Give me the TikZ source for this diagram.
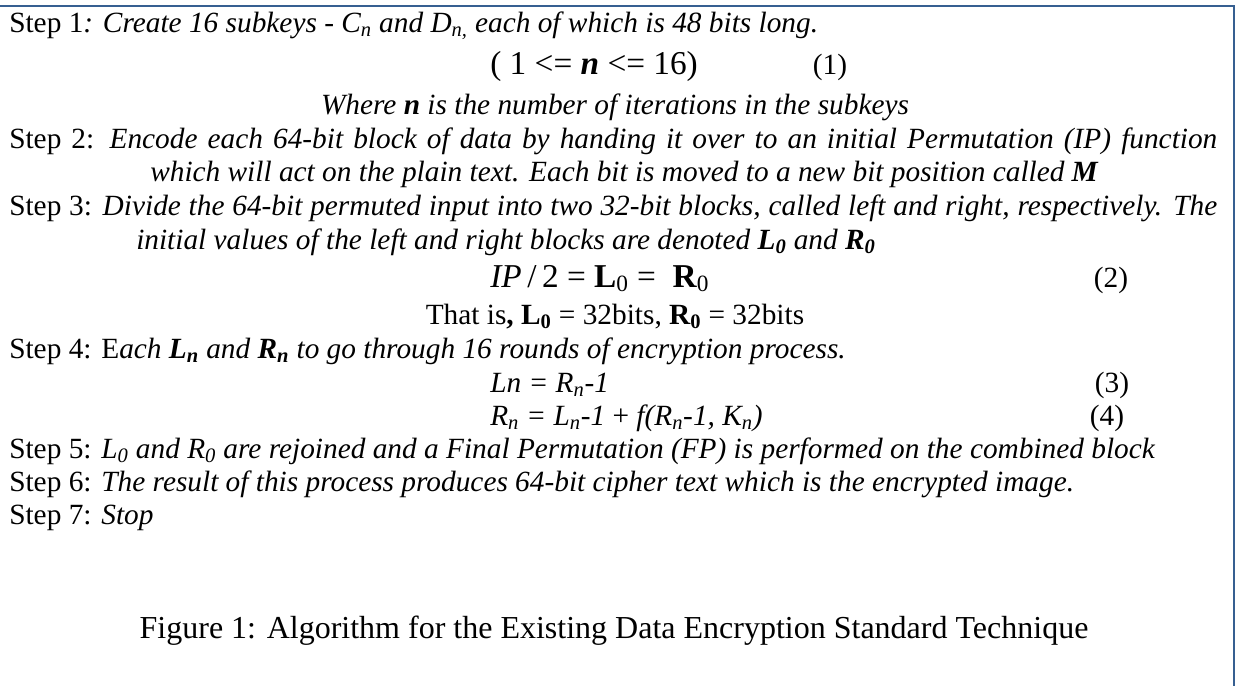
\documentclass[tikz,border=0pt]{standalone}
\usepackage{fontspec}
\setmainfont{Liberation Serif}
\definecolor{frameblue}{RGB}{54,95,145}
\newcommand{\sbs}[1]{\textsubscript{#1}}
\newlength{\fullw}
\setlength{\fullw}{906pt}
\begin{document}
\begin{tikzpicture}[x=0.75pt,y=-0.75pt,
  txt/.style={anchor=base west,inner sep=0pt,font=\fontsize{22}{25}\selectfont},
  mid/.style={anchor=base,inner sep=0pt,font=\fontsize{22}{25}\selectfont},
  eqn/.style={anchor=base west,inner sep=0pt,font=\fontsize{25}{28}\selectfont},
  captxt/.style={anchor=base,inner sep=0pt,font=\fontsize{24}{28}\selectfont},
  frame/.style={draw=frameblue,line width=2.2pt}]
\useasboundingbox (0,0) rectangle (1237,686);

% frame: top and right edges
\coordinate (fa) at (0,6);
\coordinate (fb) at (1234,6);
\coordinate (fc) at (1234,686);
\draw[frame] (fa) -- (fb) -- (fc);

% step 1
\node[txt] (s1) at (9,32) {Step 1\textit{: Create 16 subkeys - C\sbs{n} and D\sbs{n,} each of which is 48 bits long.}};
\node[eqn] (e1) at (490,74) {( 1 <= \textbf{\textit{n}} <= 16)};
\node[mid] (n1) at (830,74) {(1)};
\node[mid] (w1) at (615,114) {\textit{Where \textbf{n} is the number of iterations in the subkeys}};

% step 2
\node[txt] (s2) at (9,148) {\makebox[\fullw][s]{Step 2: \textit{Encode each 64-bit block of data by handing it over to an initial Permutation (IP) function}}};
\node[txt] (s2b) at (150,181) {\textit{which will act on the plain text. Each bit is moved to a new bit position called \textbf{M}}};

% step 3
\node[txt] (s3) at (9,215) {\makebox[\fullw][s]{Step 3: \textit{Divide the 64-bit permuted input into two 32-bit blocks, called left and right, respectively. The}}};
\node[txt] (s3b) at (136,249) {\textit{initial values of the left and right blocks are denoted \textbf{L\sbs{0}} and \textbf{R\sbs{0}}}};
\node[eqn] (e2) at (490,287) {\textit{IP}\,/\,2 = \textbf{L}\sbs{0} = \ \textbf{R}\sbs{0}};
\node[mid] (n2) at (1111,287) {(2)};
\node[mid] (t3) at (615,324) {That is\textbf{, L\sbs{0}} = 32bits, \textbf{R\sbs{0}} = 32bits};

% step 4
\node[txt] (s4) at (9,358) {Step 4: E\textit{ach \textbf{L\sbs{n}} and \textbf{R\sbs{n}} to go through 16 rounds of encryption process.}};
\node[txt] (e3) at (490,392) {\textit{Ln = R\sbs{n}-1}};
\node[mid] (n3) at (1112,392) {(3)};
\node[txt] (e4) at (490,425) {\textit{R\sbs{n} = L\sbs{n}-1} + \textit{f(R\sbs{n}-1, K\sbs{n})}};
\node[mid] (n4) at (1107,425) {(4)};

% steps 5 to 7
\node[txt] (s5) at (9,458) {Step 5: \textit{L\sbs{0} and R\sbs{0} are rejoined and a Final Permutation (FP) is performed on the combined block}};
\node[txt] (s6) at (9,491) {Step 6: \textit{The result of this process produces 64-bit cipher text which is the encrypted image.}};
\node[txt] (s7) at (9,524) {Step 7: \textit{Stop}};

% caption
\node[captxt] (fig) at (614,638) {Figure 1: Algorithm for the Existing Data Encryption Standard Technique};
\end{tikzpicture}
\end{document}
